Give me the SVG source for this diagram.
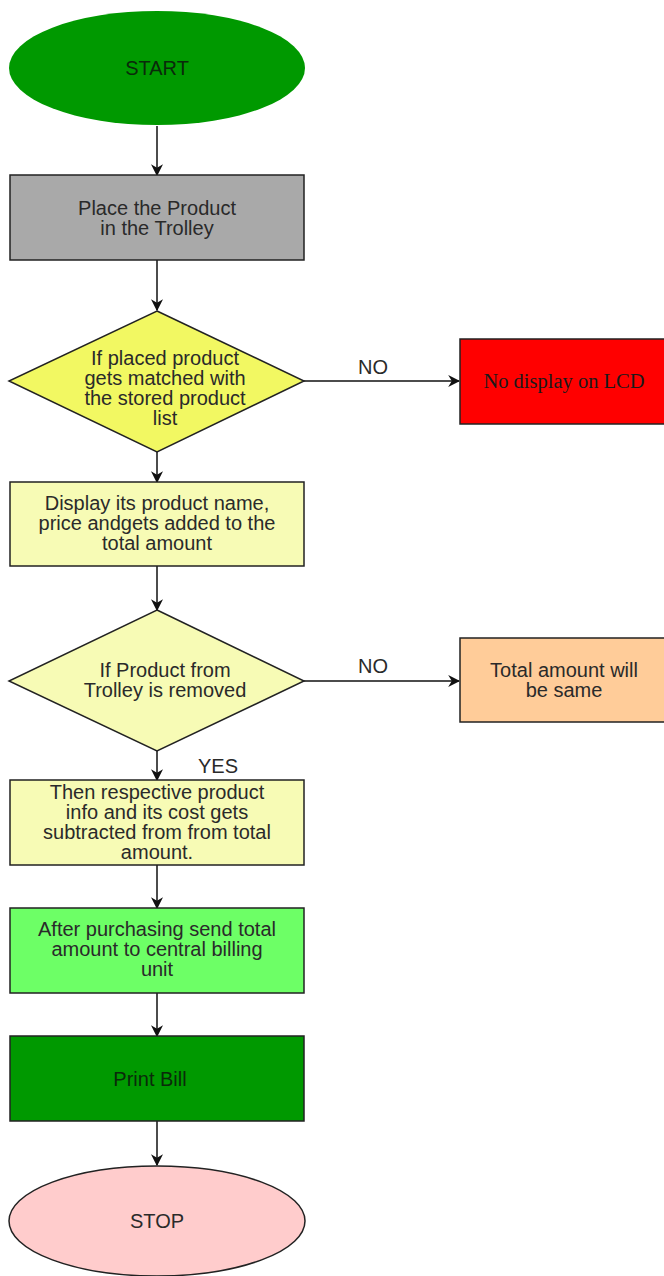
<svg xmlns="http://www.w3.org/2000/svg" width="664" height="1276" viewBox="0 0 664 1276">
<style>
.n{stroke:#222;stroke-width:1.5}
.t{font-family:"Liberation Sans",Arial,sans-serif;font-size:20px;fill:#2a2a2a;text-anchor:middle}
.s{font-family:"Liberation Serif","Times New Roman",serif;font-size:20.5px;fill:#1a1a1a;text-anchor:middle}
.c{stroke:#111;stroke-width:1.5;fill:none;marker-end:url(#ah)}
</style>
<defs>
<marker id="ah" viewBox="0 0 10 10" refX="9" refY="5" markerWidth="12" markerHeight="12" markerUnits="userSpaceOnUse" orient="auto">
<path d="M0,0 L10,5 L0,10 L3,5 z" fill="#111"/>
</marker>
</defs>
<rect width="664" height="1276" fill="#fff"/>
<g id="connectors">
<line class="c" x1="157" y1="126" x2="157" y2="175"/>
<line class="c" x1="157" y1="260" x2="157" y2="310"/>
<line class="c" x1="304" y1="381" x2="459" y2="381"/>
<line class="c" x1="157" y1="452" x2="157" y2="482"/>
<line class="c" x1="157" y1="566" x2="157" y2="610"/>
<line class="c" x1="304" y1="681" x2="459" y2="681"/>
<line class="c" x1="157" y1="751" x2="157" y2="780"/>
<line class="c" x1="157" y1="865" x2="157" y2="908"/>
<line class="c" x1="157" y1="993" x2="157" y2="1036"/>
<line class="c" x1="157" y1="1121" x2="157" y2="1165"/>
<text class="t" x="373" y="374">NO</text>
<text class="t" x="373" y="673">NO</text>
<text class="t" x="218" y="773">YES</text>
</g>
<g id="start">
<ellipse cx="157" cy="68" rx="148" ry="57" fill="#009900"/>
<text class="t" x="157" y="75" style="fill:#0a2a0a">START</text>
</g>
<g id="place">
<rect class="n" x="10" y="175" width="294" height="85" fill="#a9a9a9"/>
<text class="t" x="157" y="215">Place the Product</text>
<text class="t" x="157" y="235">in the Trolley</text>
</g>
<g id="match">
<polygon class="n" points="157,311 304,381 157,452 9,381" fill="#f2f862"/>
<text class="t" x="165" y="365">If placed product</text>
<text class="t" x="165" y="385">gets matched with</text>
<text class="t" x="165" y="405">the stored product</text>
<text class="t" x="165" y="425">list</text>
</g>
<g id="nodisplay">
<rect class="n" x="460" y="339" width="210" height="85" fill="#ff0000"/>
<text class="s" x="564" y="388">No display on LCD</text>
</g>
<g id="display">
<rect class="n" x="10" y="482" width="294" height="84" fill="#f7fbb5"/>
<text class="t" x="157" y="510">Display its product name,</text>
<text class="t" x="157" y="530">price andgets added to the</text>
<text class="t" x="157" y="550">total amount</text>
</g>
<g id="removed">
<polygon class="n" points="157,610 304,681 157,751 9,681" fill="#f7fbb5"/>
<text class="t" x="165" y="677">If Product from</text>
<text class="t" x="165" y="697">Trolley is removed</text>
</g>
<g id="same">
<rect class="n" x="460" y="638" width="210" height="84" fill="#ffcc99"/>
<text class="t" x="564" y="677">Total amount will</text>
<text class="t" x="564" y="697">be same</text>
</g>
<g id="subtract">
<rect class="n" x="10" y="780" width="294" height="85" fill="#f7fbb5"/>
<text class="t" x="157" y="799">Then respective product</text>
<text class="t" x="157" y="819">info and its cost gets</text>
<text class="t" x="157" y="839">subtracted from from total</text>
<text class="t" x="157" y="859">amount.</text>
</g>
<g id="send">
<rect class="n" x="10" y="908" width="294" height="85" fill="#6dff66"/>
<text class="t" x="157" y="936">After purchasing send total</text>
<text class="t" x="157" y="956">amount to central billing</text>
<text class="t" x="157" y="976">unit</text>
</g>
<g id="print">
<rect class="n" x="10" y="1036" width="294" height="85" fill="#009900"/>
<text class="t" x="150" y="1086" style="fill:#0a2a0a">Print Bill</text>
</g>
<g id="stop">
<ellipse class="n" cx="157" cy="1221" rx="148" ry="55" fill="#ffcccc"/>
<text class="t" x="157" y="1228">STOP</text>
</g>
</svg>
